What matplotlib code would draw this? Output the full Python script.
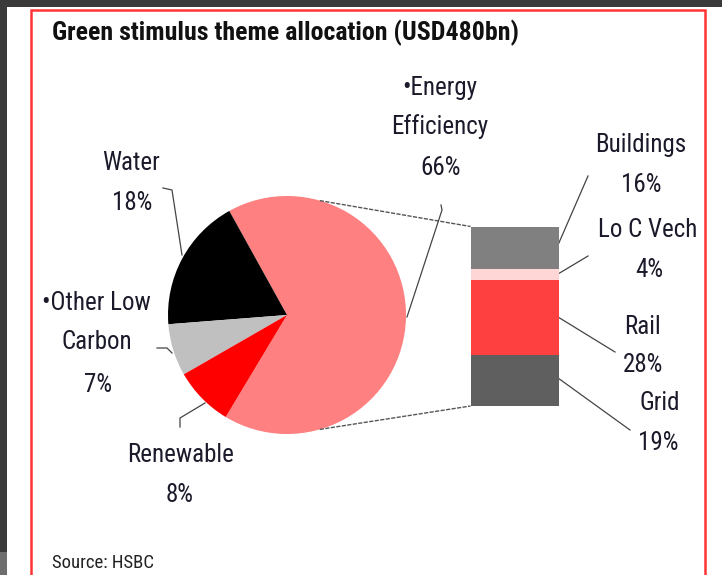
import matplotlib
matplotlib.use("Agg")
import matplotlib.pyplot as plt
from matplotlib import font_manager
from matplotlib.patches import Rectangle
import numpy as np

# fonts: narrow Arial look-alike
names = {f.name for f in font_manager.fontManager.ttflist}
narrow = next((n for n in ["Liberation Sans Narrow", "Roboto Condensed", "Archivo Narrow",
                           "PT Sans Narrow"] if n in names), "Liberation Sans")
plt.rcParams["font.family"] = [narrow, "DejaVu Sans"]

# pie data
pie_labels = ["Energy Efficiency", "Water", "Other Low Carbon", "Renewable"]
pie_values = [66, 18, 7, 8]
pie_colors = ["#FF8080", "#000000", "#C0C0C0", "#FF0000"]

# bar data (breakdown of energy efficiency), bottom to top
bar_labels = ["Grid", "Rail", "Lo C Vech", "Buildings"]
bar_values = [19, 28, 4, 16]
bar_colors = ["#5F5F5F", "#FF4040", "#FFD6D6", "#808080"]

W, H = 722, 575
fig = plt.figure(figsize=(W / 100, H / 100), dpi=100)
fig.patch.set_facecolor("white")

# canvas axes in pixel coords (y measured from top of image)
ax = fig.add_axes([0, 0, 1, 1])


def Y(y):
    return H - y


# pie
cx, cy, r = 287, Y(315), 119
ax.pie(pie_values, colors=pie_colors, startangle=-121, counterclock=True,
       center=(cx, cy), radius=r, frame=True,
       wedgeprops=dict(linewidth=0))
ax.set_xlim(0, W)
ax.set_ylim(0, H)
ax.set_aspect("auto")
ax.axis("off")

# screenshot frame: dark strips and red border
ax.add_patch(Rectangle((0, Y(7)), W, 7, color="#3A3A3A", lw=0))
ax.add_patch(Rectangle((0, 0), 7, H, color="#3A3A3A", lw=0))
ax.add_patch(Rectangle((0, 0), 7, Y(552), color="#6E6E6E", lw=0))
ax.add_patch(Rectangle((31, Y(590)), 674, 580, fill=False, ec="#FF3535", lw=1.8))

ax.text(52, Y(33), "Green stimulus theme allocation (USD480bn)", fontsize=18.6,
        fontweight="bold", ha="left", va="center", color="#111111")
ax.text(52, Y(563), "Source: HSBC", fontsize=13.5, ha="left", va="center", color="#222222")

# stacked bar in its own axes
bx0, bx1, by0, by1 = 470.5, 558.5, 226.5, 406
bax = fig.add_axes([bx0 / W, Y(by1) / H, (bx1 - bx0) / W, (by1 - by0) / H])
bottom = 0
for v, c in zip(bar_values, bar_colors):
    bax.bar(0, v, bottom=bottom, width=1, color=c, lw=0)
    bottom += v
bax.set_xlim(-0.5, 0.5)
bax.set_ylim(0, sum(bar_values))
bax.axis("off")

# connector lines from pie to bar
for ang, by in [(74, by0), (-74, by1)]:
    a = np.deg2rad(ang)
    ax.plot([cx + r * np.cos(a), bx0], [cy + r * np.sin(a), Y(by)],
            color="#555555", lw=1, ls=(0, (3, 1)))

# leader lines
leaders = [
    [(407, 317), (442, 210), (441, 205)],
    [(182, 255), (172, 190), (163, 188)],
    [(172, 353), (167, 348), (157, 348)],
    [(205, 403), (180, 418), (180, 427)],
    [(558, 245), (588, 176)],
    [(558, 274), (588, 256)],
    [(558, 317), (615, 352)],
    [(558, 378), (630, 430)],
]
for pts in leaders:
    xs, ys = zip(*pts)
    ax.plot(xs, [Y(y) for y in ys], color="#444444", lw=0.9)

# labels
labels = [
    ("\u2022Energy", 440, 88), ("Efficiency", 440, 127), ("66%", 441, 168),
    ("Water", 131, 163), ("18%", 132, 203),
    ("\u2022Other Low", 96, 303), ("Carbon", 97, 342), ("7%", 98, 385),
    ("Renewable", 181, 455), ("8%", 180, 495),
    ("Buildings", 641, 145), ("16%", 641, 185),
    ("Lo C Vech", 648, 230), ("4%", 649, 270),
    ("Rail", 643, 327), ("28%", 643, 365),
    ("Grid", 660, 403), ("19%", 658, 443),
]
for s, x, y in labels:
    ax.text(x, Y(y), s, fontsize=18, ha="center", va="center", color="#1A1A2A")

fig.savefig("out.png", dpi=100, facecolor=fig.get_facecolor())
